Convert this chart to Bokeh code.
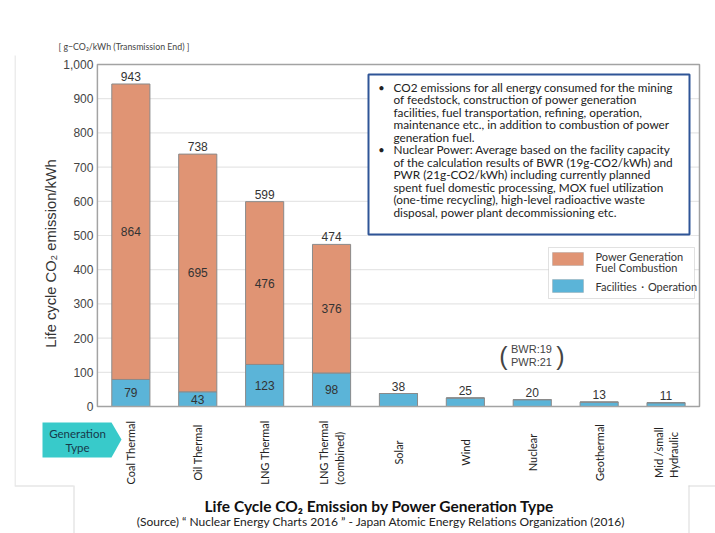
import math
from bokeh.plotting import figure
from bokeh.models import (ColumnDataSource, LabelSet, Label, BoxAnnotation, PolyAnnotation,
                          Range1d, FactorRange, NumeralTickFormatter)
from bokeh.core.properties import value
from bokeh.embed import file_html
from bokeh.resources import INLINE

# ---------------- data ----------------
categories = ["Coal Thermal", "Oil Thermal", "LNG Thermal", "LNG Thermal (combined)",
              "Solar", "Wind", "Nuclear", "Geothermal", "Mid /small Hydraulic"]
category_labels = ["Coal Thermal", "Oil Thermal", "LNG Thermal", "LNG Thermal\n(combined)",
                   "Solar", "Wind", "Nuclear", "Geothermal", "Mid /small\nHydraulic"]
facilities_operation = [79, 43, 123, 98, 38, 25, 20, 13, 11]
fuel_combustion = [864, 695, 476, 376, 0, 0, 0, 0, 0]
y_ticks = [0, 100, 200, 300, 400, 500, 600, 700, 800, 900, 1000]

note_lines = [
    "CO2 emissions for all energy consumed for the mining",
    "of feedstock, construction of power generation",
    "facilities, fuel transportation, refining, operation,",
    "maintenance etc., in addition to combustion of power",
    "generation fuel.",
    "Nuclear Power: Average  based on the facility capacity",
    "of the calculation results of BWR (19g-CO2/kWh) and",
    "PWR (21g-CO2/kWh)  including currently planned",
    "spent fuel domestic processing, MOX fuel utilization",
    "(one-time recycling), high-level radioactive waste",
    "disposal, power plant decommissioning etc.",
]
bullet_line_index = [0, 5]
legend_labels = [["Power Generation", "Fuel Combustion"], ["Facilities\u30fbOperation"]]
nuclear_note = ["BWR:19", "PWR:21"]
title_text = "Life Cycle CO\u2082 Emission by Power Generation Type"
source_text = ("(Source) \u201c Nuclear Energy Charts 2016 \u201d - "
               "Japan Atomic Energy Relations Organization (2016)")

# ---------------- styles / layout ----------------
ORANGE = "#E09474"
BLUE = "#5BB4D8"
EDGE = "#8a8a8a"
CYAN = "#38CACA"
NOTE_BLUE = "#2F5597"
TXT = "#333333"
SLIDE_LINE = "#d9d9d9"
SANS = "Liberation Sans"
CAL = "Lato"

W, H = 715, 533
PLOT_LEFT, PLOT_RIGHT, PLOT_TOP, PLOT_BOTTOM = 97, 699, 64, 406   # plot area, in pixels
Y_MAX = 1000
N = len(categories)
unit_px = (PLOT_RIGHT - PLOT_LEFT) / N
pad_r = (W - PLOT_RIGHT) / unit_px
frame_left = round(PLOT_LEFT - (1 + pad_r) * unit_px)
px_per_y = (PLOT_BOTTOM - PLOT_TOP) / Y_MAX
y_start = -(H - PLOT_BOTTOM) / px_per_y
y_end = PLOT_BOTTOM / px_per_y

def sx(px):
    return px - frame_left
def sy(py):
    return H - py

def screen_box(left, right, top, bottom, **kw):
    return BoxAnnotation(left=sx(left), right=sx(right), top=sy(top), bottom=sy(bottom),
                         left_units="screen", right_units="screen",
                         top_units="screen", bottom_units="screen", **kw)

totals = [f + c for f, c in zip(facilities_operation, fuel_combustion)]
src = ColumnDataSource(dict(cat=categories, fac=facilities_operation, comb=fuel_combustion,
                            total=totals, total_txt=[str(t) for t in totals]))
stacked = [i for i, c in enumerate(fuel_combustion) if c > 0]
mid_src = ColumnDataSource(dict(
    cat=[categories[i] for i in stacked],
    fac_mid=[facilities_operation[i] / 2 for i in stacked],
    fac_txt=[str(facilities_operation[i]) for i in stacked],
    comb_mid=[facilities_operation[i] + fuel_combustion[i] / 2 for i in stacked],
    comb_txt=[str(fuel_combustion[i]) for i in stacked],
))

x_range = FactorRange("_pad", *categories, range_padding=pad_r, range_padding_units="absolute")
p = figure(x_range=x_range, y_range=Range1d(y_start, y_end), title=None,
           width=W, height=H, output_backend="svg", toolbar_location=None,
           min_border_left=frame_left, min_border_right=0, min_border_top=0, min_border_bottom=0)
p.background_fill_color = "white"
p.border_fill_color = "white"
p.outline_line_color = None
p.xgrid.grid_line_color = None
p.ygrid.grid_line_color = None
p.xaxis.visible = False

# faint slide frame lines
for l, r, t, b in [(14, 15, 55, 485), (14, 73, 485, 486), (73, 74, 485, 533),
                   (688, 689, 485, 533), (688, 715, 485, 486)]:
    p.add_layout(screen_box(l, r, t, b, fill_color=SLIDE_LINE, fill_alpha=1, line_color=None,
                            level="underlay"))

# y axis placed on the plot-area's left edge
yax = p.yaxis[0]
yax.fixed_location = 1
yax.bounds = (0, Y_MAX)
yax.ticker = y_ticks
yax.formatter = NumeralTickFormatter(format="0,0")
yax.axis_line_color = None
yax.major_tick_line_color = None
yax.minor_tick_line_color = None
yax.major_tick_in = 0
yax.major_tick_out = 0
yax.major_label_text_font = SANS
yax.major_label_text_font_size = "12px"
yax.major_label_text_color = "#444444"
yax.major_label_standoff = 4

# horizontal grid lines across the plot area
p.segment(x0=[1] * len(y_ticks), x1=[1 + N] * len(y_ticks), y0=y_ticks, y1=y_ticks,
          line_color="#e6e6e6", line_width=1.2)

p.vbar_stack(["fac", "comb"], x="cat", width=0.57, source=src,
             fill_color=[BLUE, ORANGE], line_color=EDGE, line_width=1)

# plot-area border
p.quad(left=[1], right=[1 + N], bottom=[0], top=[Y_MAX], fill_color=None,
       line_color="#a3a3a3", line_width=1.5)

# value labels
for y_field, t_field, s, off, base in [("total", "total_txt", src, 3, "bottom"),
                                       ("comb_mid", "comb_txt", mid_src, 0, "middle"),
                                       ("fac_mid", "fac_txt", mid_src, 0, "middle")]:
    p.add_layout(LabelSet(x="cat", y=y_field, text=t_field, source=s, y_offset=off,
                          text_align="center", text_baseline=base, text_font=value(SANS),
                          text_font_size="12px", text_color=TXT))

# category labels (vertical, centred)
cat_src = ColumnDataSource(dict(cat=categories, lab=category_labels))
p.add_layout(LabelSet(x="cat", y=sy(452), y_units="screen", text="lab", source=cat_src,
                      angle=math.pi / 2, text_align="center", text_baseline="middle",
                      text_font=value(CAL), text_font_size="11px", text_color="#222222"))

# generation type arrow
p.add_layout(PolyAnnotation(xs=[sx(42), sx(111), sx(121), sx(111), sx(42)],
                            ys=[sy(422), sy(422), sy(439), sy(457), sy(457)],
                            xs_units="screen", ys_units="screen",
                            fill_color=CYAN, fill_alpha=1, line_color=None))
for txt, py in [("Generation", 433), ("Type", 447)]:
    p.add_layout(Label(x=sx(77), y=sy(py), x_units="screen", y_units="screen", text=txt,
                       text_align="center", text_baseline="middle", text_font=CAL,
                       text_font_size="11.5px", text_color="#17394a"))

# y axis title and unit
p.add_layout(Label(x=sx(50), y=sy(253), x_units="screen", y_units="screen",
                   text="Life cycle CO\u2082 emission/kWh", angle=math.pi / 2,
                   text_align="center", text_baseline="middle", text_font=SANS,
                   text_font_size="14.7px", text_color=TXT))
p.add_layout(Label(x=sx(58), y=sy(46), x_units="screen", y_units="screen",
                   text="[ g\u2212CO\u2082/kWh (Transmission End) ]", text_align="left",
                   text_baseline="middle", text_font=CAL, text_font_size="8.8px",
                   text_color="#444444"))

# note box
p.add_layout(screen_box(368, 689, 74, 234, fill_color="white", fill_alpha=1,
                        line_color=NOTE_BLUE, line_width=2, line_alpha=1))
note_src = ColumnDataSource(dict(
    x=[sx(393)] * len(note_lines),
    y=[sy(86.7 + 12.5 * i) for i in range(len(note_lines))],
    t=note_lines))
p.add_layout(LabelSet(x="x", y="y", text="t", source=note_src, x_units="screen", y_units="screen",
                      text_align="left", text_baseline="middle", text_font=value(CAL),
                      text_font_size="11.8px", text_color="#222222"))
bul_src = ColumnDataSource(dict(x=[sx(381)] * len(bullet_line_index),
                                y=[sy(86.7 + 12.5 * i) for i in bullet_line_index],
                                t=["\u2022"] * len(bullet_line_index)))
p.add_layout(LabelSet(x="x", y="y", text="t", source=bul_src, x_units="screen", y_units="screen",
                      text_align="center", text_baseline="middle", text_font=value(CAL),
                      text_font_size="11px", text_color="#222222"))

# legend (drawn by hand)
p.add_layout(screen_box(548, 694, 247, 298, fill_color="white", fill_alpha=1,
                        line_color="#9a9a9a", line_width=1))
for col, top, labs, ys in [(ORANGE, 252, legend_labels[0], [256, 267]),
                           (BLUE, 279, legend_labels[1], [286])]:
    p.add_layout(screen_box(552, 583, top, top + 13, fill_color=col, fill_alpha=1,
                            line_color=EDGE, line_width=1))
    for lab, py in zip(labs, ys):
        p.add_layout(Label(x=sx(595), y=sy(py), x_units="screen", y_units="screen", text=lab,
                           text_align="left", text_baseline="middle", text_font=CAL,
                           text_font_size="11px", text_color="#333333"))

# BWR / PWR note
for txt, py in zip(nuclear_note, [348, 361]):
    p.add_layout(Label(x=sx(531), y=sy(py), x_units="screen", y_units="screen", text=txt,
                       text_align="center", text_baseline="middle", text_font=SANS,
                       text_font_size="11px", text_color="#444444"))
for px_, ch in [(503, "("), (560, ")")]:
    p.add_layout(Label(x=sx(px_), y=sy(355), x_units="screen", y_units="screen", text=ch,
                       text_align="center", text_baseline="middle", text_font=SANS,
                       text_font_size="25px", text_color="#444444"))

# titles
p.add_layout(Label(x=sx(379), y=sy(505), x_units="screen", y_units="screen", text=title_text,
                   text_align="center", text_baseline="middle", text_font=CAL,
                   text_font_style="bold", text_font_size="15.5px", text_color="#111111"))
p.add_layout(Label(x=sx(381), y=sy(521), x_units="screen", y_units="screen", text=source_text,
                   text_align="center", text_baseline="middle", text_font=CAL,
                   text_font_size="12px", text_color="#222222"))

open("out.html", "w").write(file_html(p, INLINE))
